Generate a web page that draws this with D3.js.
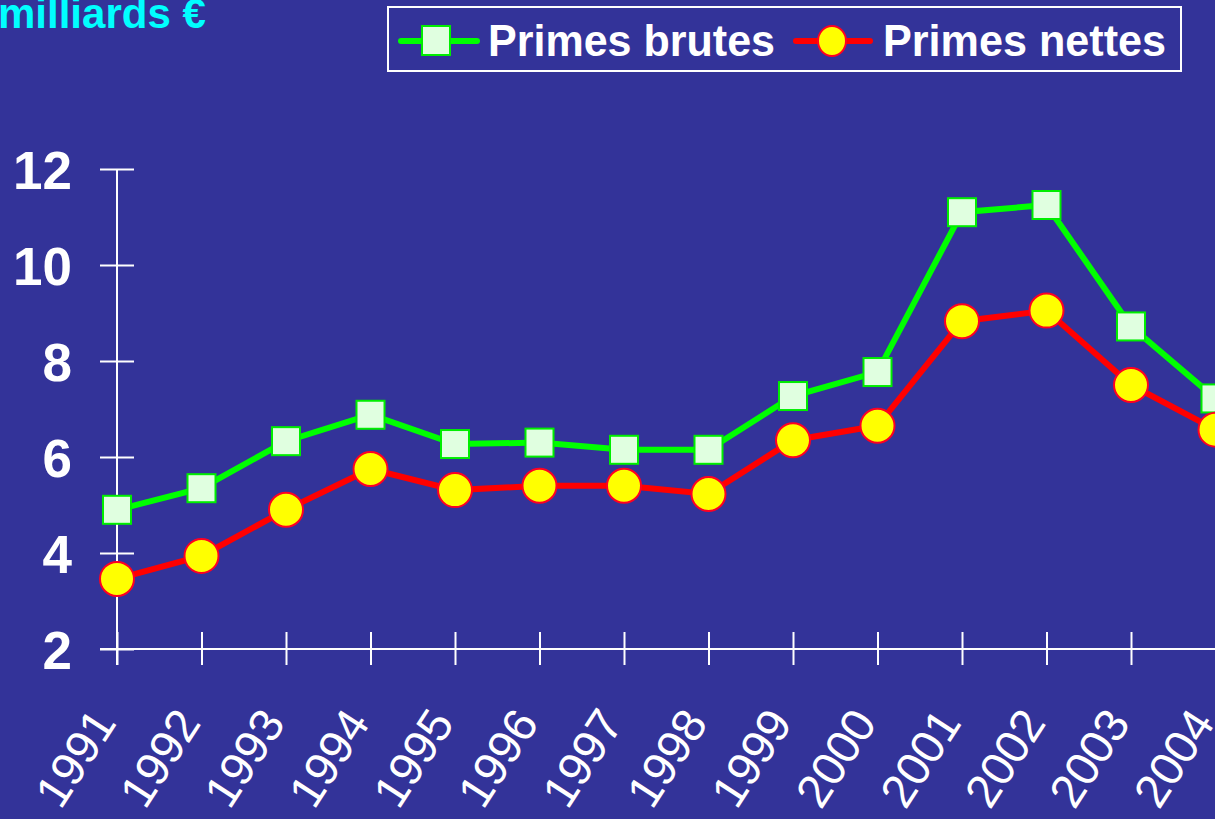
<!DOCTYPE html>
<html>
<head>
<meta charset="utf-8">
<script src="https://cdn.jsdelivr.net/npm/d3@7"></script>
<style>
  html, body { margin: 0; padding: 0; background: #333399; overflow: hidden; }
  svg { display: block; }
</style>
</head>
<body>
<script>
let w = 1215;
let h = 819;

// data
let years = [1991, 1992, 1993, 1994, 1995, 1996, 1997, 1998, 1999, 2000, 2001, 2002, 2003, 2004];
let primesBrutes = [4.9, 5.35, 6.33, 6.88, 6.27, 6.3, 6.15, 6.15, 7.27, 7.77, 11.1, 11.25, 8.72, 7.22];
let primesNettes = [3.46, 3.94, 4.9, 5.75, 5.31, 5.4, 5.4, 5.23, 6.35, 6.65, 8.83, 9.05, 7.5, 6.57];
let yTicks = [2, 4, 6, 8, 10, 12];
let unitLabel = "milliards €";
let seriesNames = ["Primes brutes", "Primes nettes"];

let font = "Liberation Sans, Arial, sans-serif";
let svg = d3.select("body").append("svg").attr("width", w).attr("height", h);

let x = d3.scaleLinear().domain([1991, 2004]).range([117, 1215.5]);
let y = d3.scaleLinear().domain([2, 12]).range([649, 169]);

// y axis
let yAxis = svg.append("g")
  .attr("transform", "translate(117,0)")
  .call(d3.axisLeft(y).tickValues(yTicks).tickSize(17).tickSizeOuter(0));
yAxis.select(".domain").remove();
yAxis.selectAll(".tick line").attr("x1", -17).attr("x2", 17).attr("stroke", "white").attr("stroke-width", 2);
yAxis.selectAll(".tick text")
  .attr("x", -45)
  .attr("dy", "0.36em")
  .attr("fill", "white")
  .attr("font-family", font)
  .attr("font-weight", "bold")
  .attr("font-size", 53);

// x axis
let xAxis = svg.append("g")
  .attr("transform", "translate(0,649)")
  .call(d3.axisBottom(x).tickValues(years).tickFormat(d3.format("d")).tickSize(17).tickSizeOuter(0));
xAxis.select(".domain").attr("d", "M100,0H1215").attr("fill", "none").attr("stroke", "white").attr("stroke-width", 2);
xAxis.selectAll(".tick line").attr("y1", -17).attr("y2", 16).attr("stroke", "white").attr("stroke-width", 2);
xAxis.selectAll(".tick text")
  .attr("text-anchor", "end")
  .attr("transform", "translate(0,74) rotate(-57)")
  .attr("y", 0)
  .attr("dy", 0)
  .attr("fill", "white")
  .attr("font-family", font)
  .attr("font-size", 47);

// y axis line runs from 12 down past the x axis
svg.append("line")
  .attr("x1", 117).attr("x2", 117)
  .attr("y1", y(12)).attr("y2", 665)
  .attr("stroke", "white").attr("stroke-width", 2);

let line = d3.line().x((d, i) => x(years[i])).y(d => y(d));

// primes brutes
svg.append("path")
  .datum(primesBrutes)
  .attr("d", line)
  .attr("fill", "none")
  .attr("stroke", "#00ff00")
  .attr("stroke-width", 6);
svg.selectAll("rect.brutes")
  .data(primesBrutes)
  .enter()
  .append("rect")
  .attr("class", "brutes")
  .attr("x", (d, i) => x(years[i]) - 14)
  .attr("y", d => y(d) - 14)
  .attr("width", 28)
  .attr("height", 28)
  .attr("fill", "#e0ffe0")
  .attr("stroke", "#00ee00")
  .attr("stroke-width", 2);

// primes nettes
svg.append("path")
  .datum(primesNettes)
  .attr("d", line)
  .attr("fill", "none")
  .attr("stroke", "#ff0000")
  .attr("stroke-width", 6);
svg.selectAll("circle.nettes")
  .data(primesNettes)
  .enter()
  .append("circle")
  .attr("class", "nettes")
  .attr("cx", (d, i) => x(years[i]))
  .attr("cy", d => y(d))
  .attr("r", 17)
  .attr("fill", "#ffff00")
  .attr("stroke", "#ff0022")
  .attr("stroke-width", 2);

// unit label
svg.append("text")
  .attr("x", -2)
  .attr("y", 28)
  .attr("fill", "#00ffff")
  .attr("font-family", font)
  .attr("font-weight", "bold")
  .attr("font-size", 42)
  .text(unitLabel);

// legend
let legend = svg.append("g");
legend.append("rect")
  .attr("x", 388).attr("y", 7)
  .attr("width", 793).attr("height", 64)
  .attr("fill", "none")
  .attr("stroke", "white")
  .attr("stroke-width", 2);

legend.append("line")
  .attr("x1", 401).attr("x2", 477).attr("y1", 41).attr("y2", 41)
  .attr("stroke", "#00ff00").attr("stroke-width", 6).attr("stroke-linecap", "round");
legend.append("rect")
  .attr("x", 422).attr("y", 26).attr("width", 28).attr("height", 29)
  .attr("fill", "#e0ffe0").attr("stroke", "#00ee00").attr("stroke-width", 2);
legend.append("text")
  .attr("x", 488).attr("y", 56)
  .attr("textLength", 287).attr("lengthAdjust", "spacingAndGlyphs")
  .attr("fill", "white")
  .attr("font-family", font)
  .attr("font-weight", "bold")
  .attr("font-size", 45)
  .text(seriesNames[0]);

legend.append("line")
  .attr("x1", 796).attr("x2", 870).attr("y1", 41).attr("y2", 41)
  .attr("stroke", "#ff0000").attr("stroke-width", 6).attr("stroke-linecap", "round");
legend.append("ellipse")
  .attr("cx", 832).attr("cy", 41).attr("rx", 14).attr("ry", 15)
  .attr("fill", "#ffff00").attr("stroke", "#ff0022").attr("stroke-width", 2);
legend.append("text")
  .attr("x", 883).attr("y", 56)
  .attr("textLength", 283).attr("lengthAdjust", "spacingAndGlyphs")
  .attr("fill", "white")
  .attr("font-family", font)
  .attr("font-weight", "bold")
  .attr("font-size", 45)
  .text(seriesNames[1]);
</script>
</body>
</html>
